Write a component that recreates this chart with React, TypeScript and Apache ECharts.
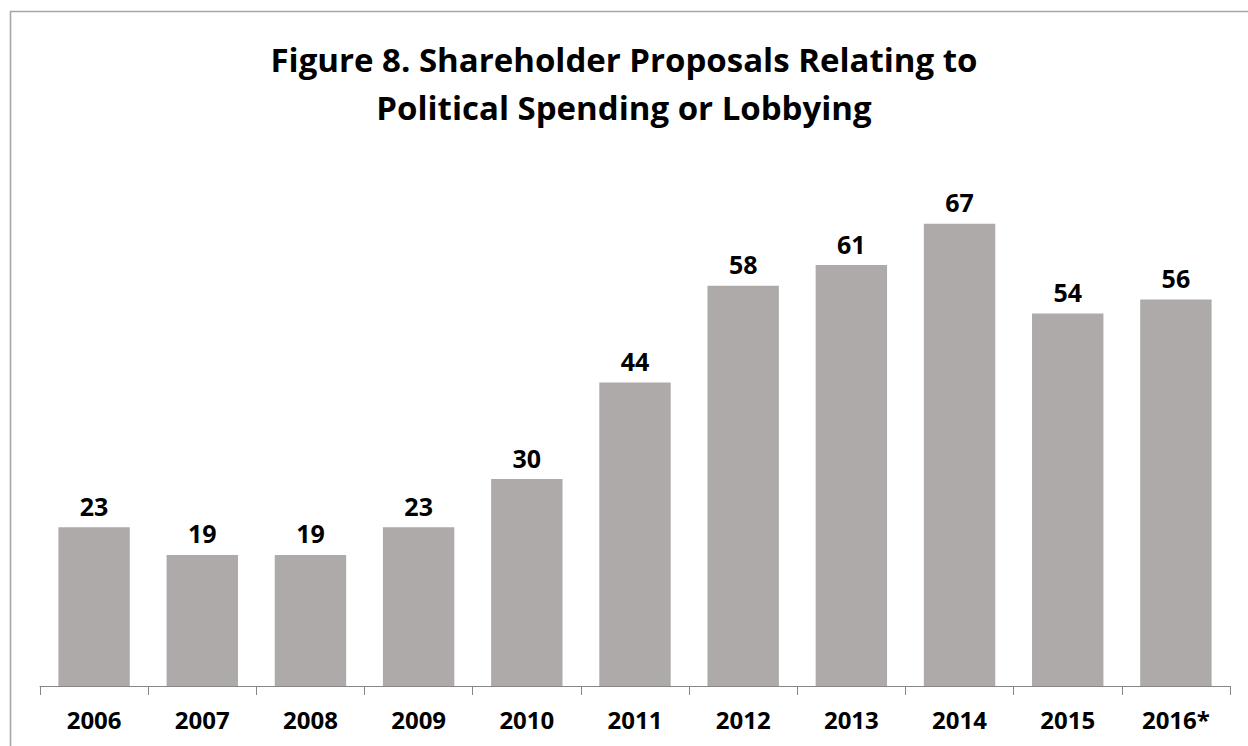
import React, { useEffect, useRef } from "react";
import * as echarts from "echarts";

const categories = ["2006", "2007", "2008", "2009", "2010", "2011", "2012", "2013", "2014", "2015", "2016*"];
const values = [23, 19, 19, 23, 30, 44, 58, 61, 67, 54, 56];
const titleLines = ["Figure 8. Shareholder Proposals Relating to", "Political Spending or Lobbying"];

export default function App() {
  const ref = useRef<HTMLDivElement>(null);
  useEffect(() => {
    if (!ref.current) return;
    const chart = echarts.init(ref.current, null, { renderer: "svg" });
    const font = "'Open Sans', 'Liberation Sans', sans-serif";
    chart.setOption({
      animation: false,
      backgroundColor: "#ffffff",
      title: {
        text: titleLines.join("\n"),
        left: "center",
        top: 30,
        textStyle: {
          fontFamily: font,
          fontWeight: "bold",
          fontSize: 33,
          lineHeight: 48,
          color: "#000000",
        },
      },
      graphic: [
        {
          type: "rect",
          shape: { x: 10.5, y: 11.5, width: 1400, height: 900 },
          style: { fill: "none", stroke: "#a6a6a6", lineWidth: 1.6 },
          silent: true,
        },
      ],
      grid: { left: 40, right: 18, top: 203, bottom: 60, containLabel: false },
      xAxis: {
        type: "category",
        data: categories,
        axisLine: { show: true, lineStyle: { color: "#868686", width: 1 } },
        axisTick: { show: true, alignWithLabel: false, length: 9, lineStyle: { color: "#868686" } },
        axisLabel: {
          fontFamily: font,
          fontWeight: "bold",
          fontSize: 24,
          color: "#000000",
          margin: 21,
        },
      },
      yAxis: {
        type: "value",
        min: 0,
        max: 70,
        show: false,
        splitLine: { show: false },
      },
      series: [
        {
          type: "bar",
          data: values,
          barCategoryGap: "34%",
          itemStyle: { color: "#aeaaa9" },
          label: {
            show: true,
            position: "top",
            distance: 9,
            fontFamily: font,
            fontWeight: "bold",
            fontSize: 25,
            color: "#000000",
          },
        },
      ],
    });
    return () => chart.dispose();
  }, []);
  return (
    <div
      ref={ref}
      style={{ position: "absolute", left: 0, top: 0, width: 1248, height: 746 }}
    />
  );
}
